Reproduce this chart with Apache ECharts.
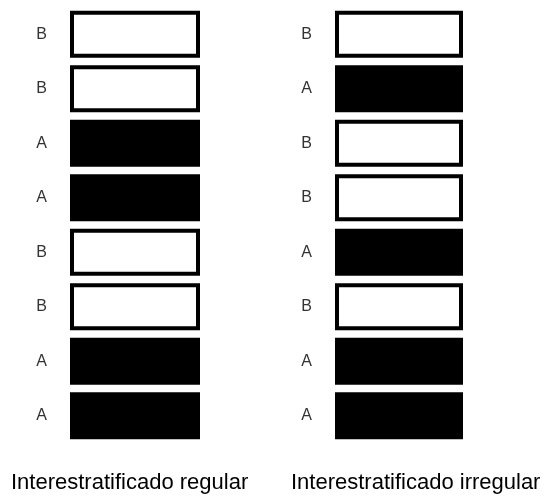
<!DOCTYPE html>
<html>
<head>
<meta charset="utf-8">
<script src="https://cdn.jsdelivr.net/npm/echarts@6/dist/echarts.min.js"></script>
<style>
  html, body { margin: 0; padding: 0; background: #fff; }
  #chart { width: 548px; height: 499px; }
</style>
</head>
<body>
<div id="chart"></div>
<script>
// layers from top to bottom
const layerIndex = [0, 1, 2, 3, 4, 5, 6, 7];
const regularLayers = ["B", "B", "A", "A", "B", "B", "A", "A"];
const irregularLayers = ["B", "A", "B", "B", "A", "B", "A", "A"];
const captions = ["Interestratificado regular", "Interestratificado irregular"];
const layerValue = 1;

const chart = echarts.init(document.getElementById("chart"));

function layerData(layers) {
  return layers.map((t) => ({
    value: layerValue,
    itemStyle:
      t === "A"
        ? { color: "#000", borderWidth: 0 }
        : { color: "#fff", borderColor: "#000", borderWidth: 4 },
  }));
}

function yAxis(gridIndex, layers) {
  return {
    type: "category",
    gridIndex,
    inverse: true,
    data: layerIndex,
    axisLine: { show: false },
    axisTick: { show: false },
    axisLabel: {
      margin: 23,
      fontFamily: "Liberation Sans",
      fontSize: 16,
      color: "#333",
      formatter: (val, idx) => layers[idx],
    },
  };
}

function xAxis(gridIndex) {
  return {
    type: "value",
    gridIndex,
    min: 0,
    max: 1,
    show: false,
  };
}

const captionStyle = {
  fontFamily: "Liberation Sans",
  fontSize: 22,
  fontWeight: "normal",
  color: "#000",
};

const option = {
  animation: false,
  backgroundColor: "#fff",
  title: [
    { text: captions[0], left: 11, top: 472, textStyle: captionStyle, padding: 0 },
    { text: captions[1], left: 291, top: 472, textStyle: captionStyle, padding: 0 },
  ],
  grid: [
    { left: 70, width: 130, top: 7, height: 436 },
    { left: 335, width: 128, top: 7, height: 436 },
  ],
  xAxis: [xAxis(0), xAxis(1)],
  yAxis: [yAxis(0, regularLayers), yAxis(1, irregularLayers)],
  series: [
    {
      type: "bar",
      xAxisIndex: 0,
      yAxisIndex: 0,
      barWidth: 47,
      data: layerData(regularLayers),
    },
    {
      type: "bar",
      xAxisIndex: 1,
      yAxisIndex: 1,
      barWidth: 47,
      data: layerData(irregularLayers),
    },
  ],
};

chart.setOption(option);
</script>
</body>
</html>
